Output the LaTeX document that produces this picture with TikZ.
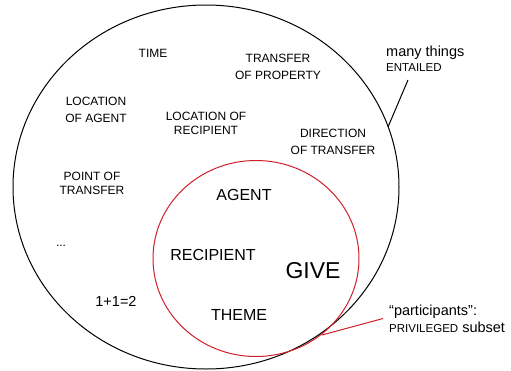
\documentclass[tikz,border=0pt]{standalone}
\usepackage{fontspec}
\setmainfont{Liberation Sans}
\definecolor{rouge}{RGB}{206,32,41}
\begin{document}
\begin{tikzpicture}[x=1pt,y=-1pt,
    petit/.style={font=\fontsize{12}{14}\selectfont,align=center,inner sep=0pt},
    moyen/.style={font=\fontsize{16}{19}\selectfont,inner sep=0pt},
    note/.style={font=\fontsize{14.5}{16}\selectfont,align=left,inner sep=0pt,anchor=west}]
    \useasboundingbox (0,0) rectangle (511,370);
    \draw[line width=1pt] (206,187) ellipse [x radius=193pt, y radius=182pt]; %grand cercle
    \draw[rouge,line width=1pt] (256,258.5) ellipse [x radius=103pt, y radius=98pt]; %cercle rouge
    \node[petit] (time) at (153,53) {TIME};
    \node[petit] (property) at (278,66.5) {TRANSFER\\[3pt]OF PROPERTY};
    \node[petit] (locagent) at (96,109.5) {LOCATION\\[3pt]OF AGENT};
    \node[petit] (locrecip) at (206,123) {LOCATION OF\\RECIPIENT};
    \node[petit] (direction) at (333,141.5) {DIRECTION\\[3pt]OF TRANSFER};
    \node[petit] (point) at (92,183) {POINT OF\\TRANSFER};
    \node[petit] (dots) at (61,246) {...};
    \node[moyen,font=\fontsize{14.5}{16}\selectfont] (math) at (116,301) {1+1=2};
    \node[moyen] (agent) at (244,195) {AGENT}; %participants
    \node[moyen] (recipient) at (213,255) {RECIPIENT};
    \node[moyen] (theme) at (239,315) {THEME};
    \node[moyen,font=\fontsize{23}{26}\selectfont] (give) at (313,271) {GIVE};
    \node[note] (entailed) at (386,59) {many things\\[-1pt]{\fontsize{11.5}{14}\selectfont ENTAILED}};
    \node[note] (participants) at (389,318.5) {“participants”:\\[1pt]{\fontsize{11.5}{14}\selectfont PRIVILEGED} subset};
    \coordinate (surgrand) at (388,127);
    \coordinate (croise) at (322,335);
    \draw[line width=1pt] ([shift={(22,8)}]entailed.south west) -- (surgrand); %renvoi noir
    \draw[rouge,line width=1pt] ([xshift=-6pt]participants.west) -- (croise); %renvoi rouge
\end{tikzpicture}
\end{document}
